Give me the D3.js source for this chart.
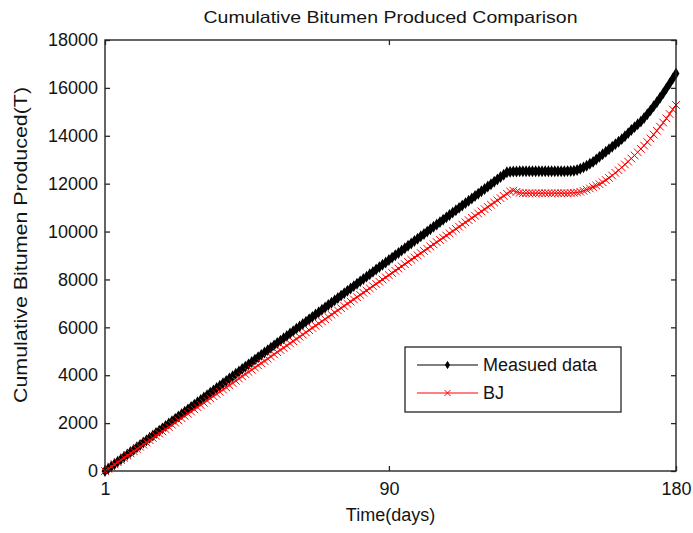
<!DOCTYPE html>
<html>
<head>
<meta charset="utf-8">
<script src="https://cdn.jsdelivr.net/npm/d3@7"></script>
<style>
  html, body { margin: 0; padding: 0; background: #fff; }
  svg { display: block; font-family: "Liberation Sans", Arial, sans-serif; }
</style>
</head>
<body>
<svg id="chart" width="693" height="533"></svg>
<script>
// Cumulative bitumen produced per day (tonnes), days 1..180
const measured = [
  0,98,197,296,396,494,593,693,791,890,
  990,1088,1187,1287,1385,1484,1584,1682,1781,1881,
  1980,2078,2177,2277,2375,2474,2574,2672,2771,2871,
  2970,3068,3167,3267,3365,3464,3564,3662,3761,3861,
  3960,4058,4157,4257,4355,4454,4554,4652,4751,4851,
  4950,5048,5147,5247,5345,5444,5544,5642,5741,5841,
  5940,6038,6137,6237,6335,6434,6534,6632,6731,6831,
  6930,7028,7127,7227,7325,7424,7524,7622,7721,7821,
  7920,8018,8117,8217,8315,8414,8514,8612,8711,8811,
  8910,9008,9107,9207,9305,9404,9504,9602,9701,9801,
  9900,9998,10097,10197,10295,10394,10494,10592,10691,10791,
  10890,10988,11087,11187,11285,11384,11484,11582,11681,11781,
  11880,11978,12077,12177,12275,12374,12474,12500,12510,12510,
  12515,12515,12520,12520,12520,12520,12520,12520,12520,12520,
  12520,12520,12520,12520,12520,12525,12530,12540,12570,12620,
  12680,12750,12830,12910,13010,13120,13230,13330,13440,13540,
  13650,13750,13860,13980,14110,14240,14360,14480,14600,14740,
  14900,15060,15230,15400,15590,15780,15980,16180,16390,16600
];
const bj = [
  0,92,184,276,368,460,551,643,735,827,
  919,1011,1103,1195,1287,1379,1470,1562,1654,1746,
  1838,1930,2022,2114,2206,2298,2389,2481,2573,2665,
  2757,2849,2941,3033,3125,3217,3308,3400,3492,3584,
  3676,3768,3860,3952,4044,4136,4227,4319,4411,4503,
  4595,4687,4779,4871,4963,5055,5146,5238,5330,5422,
  5514,5606,5698,5790,5882,5974,6065,6157,6249,6341,
  6433,6525,6617,6709,6801,6893,6984,7076,7168,7260,
  7352,7444,7536,7628,7720,7812,7903,7995,8087,8179,
  8271,8363,8455,8547,8639,8731,8822,8914,9006,9098,
  9190,9282,9374,9466,9558,9650,9741,9833,9925,10017,
  10109,10201,10293,10385,10477,10569,10660,10752,10844,10936,
  11028,11120,11212,11304,11396,11488,11579,11671,11710,11660,
  11620,11600,11600,11600,11600,11600,11600,11600,11600,11600,
  11600,11600,11600,11600,11600,11600,11610,11620,11630,11660,
  11700,11750,11800,11860,11920,11980,12060,12150,12240,12340,
  12450,12560,12680,12800,12920,13050,13180,13310,13450,13590,
  13740,13890,14050,14210,14380,14550,14730,14910,15100,15285
];
const xTicks = [1, 90, 180];
const yTicks = [0, 2000, 4000, 6000, 8000, 10000, 12000, 14000, 16000, 18000];
const seriesNames = ["Measued data", "BJ"];

const svg = d3.select("#chart");
const L = 105, R = 676, T = 40, B = 471;
const x = d3.scaleLinear().domain([1, 180]).range([L, R]);
const y = d3.scaleLinear().domain([0, 18000]).range([B, T]);
const axisColor = "#262626";
const textColor = "#141414";

// plot background
svg.append("rect").attr("x", L).attr("y", T).attr("width", R - L).attr("height", B - T)
  .attr("fill", "#fff");

function styleAxis(g, fs) {
  g.select(".domain").remove();
  g.selectAll(".tick line").attr("stroke", axisColor).attr("stroke-width", 1.3);
  g.selectAll(".tick text").attr("fill", textColor).attr("font-size", fs)
    .attr("font-family", "Liberation Sans, Arial, sans-serif");
}

svg.append("g").attr("transform", `translate(0,${B})`)
  .call(d3.axisBottom(x).tickValues(xTicks).tickSize(-5).tickSizeOuter(0).tickPadding(11).tickFormat(d3.format("d")))
  .call(g => styleAxis(g, 18));
svg.append("g").attr("transform", `translate(0,${T})`)
  .call(d3.axisTop(x).tickValues(xTicks).tickSize(-5).tickSizeOuter(0).tickFormat(""))
  .call(g => styleAxis(g, 18));
svg.append("g").attr("transform", `translate(${L},0)`)
  .call(d3.axisLeft(y).tickValues(yTicks).tickSize(-5).tickSizeOuter(0).tickPadding(7).tickFormat(d3.format("d")))
  .call(g => styleAxis(g, 18));
svg.append("g").attr("transform", `translate(${R},0)`)
  .call(d3.axisRight(y).tickValues(yTicks).tickSize(-5).tickSizeOuter(0).tickFormat(""))
  .call(g => styleAxis(g, 18));

const line = d3.line().x((d, i) => x(i + 1)).y(d => y(d));

// Measured data: black line with filled diamonds at every day
const gM = svg.append("g");
gM.append("path").datum(measured).attr("d", line)
  .attr("fill", "none").attr("stroke", "#000").attr("stroke-width", 1.5);
const diamond = d3.symbol().type(d3.symbolDiamond).size(22);
gM.selectAll("path.m").data(measured).join("path").attr("class", "m")
  .attr("d", diamond)
  .attr("transform", (d, i) => `translate(${x(i + 1)},${y(d)})`)
  .attr("fill", "#000").attr("stroke", "#000").attr("stroke-width", 1.6);

// BJ: red line with x markers at every day
const gB = svg.append("g");
gB.append("path").datum(bj).attr("d", line)
  .attr("fill", "none").attr("stroke", "#ff0000").attr("stroke-width", 1);
const cross = d3.symbol().type(d3.symbolX).size(40);
gB.selectAll("path.b").data(bj).join("path").attr("class", "b")
  .attr("d", cross)
  .attr("transform", (d, i) => `translate(${x(i + 1)},${y(d)})`)
  .attr("fill", "none").attr("stroke", "#ff0000").attr("stroke-width", 1);

// axes box
svg.append("rect").attr("x", L).attr("y", T).attr("width", R - L).attr("height", B - T)
  .attr("fill", "none").attr("stroke", axisColor).attr("stroke-width", 1.4);

// title and axis labels
svg.append("text").attr("x", (L + R) / 2).attr("y", 23).attr("text-anchor", "middle")
  .attr("font-size", 16.5).attr("fill", textColor)
  .attr("textLength", 374).attr("lengthAdjust", "spacingAndGlyphs")
  .text("Cumulative Bitumen Produced Comparison");
svg.append("text").attr("x", (L + R) / 2).attr("y", 521).attr("text-anchor", "middle")
  .attr("font-size", 18).attr("fill", textColor)
  .text("Time(days)");
svg.append("text").attr("transform", "translate(27,245) rotate(-90)").attr("text-anchor", "middle")
  .attr("font-size", 18).attr("fill", textColor)
  .attr("textLength", 316).attr("lengthAdjust", "spacingAndGlyphs")
  .text("Cumulative Bitumen Produced(T)");

// legend
const lg = svg.append("g");
lg.append("rect").attr("x", 405).attr("y", 347).attr("width", 216).attr("height", 65)
  .attr("fill", "#fff").attr("stroke", axisColor).attr("stroke-width", 1.3);
const legendDiamond = d3.symbol().type(d3.symbolDiamond).size(14);
const legendCross = d3.symbol().type(d3.symbolX).size(26);
const rows = [
  { name: seriesNames[0], color: "#000", sym: legendDiamond, fill: "#000", cy: 365 },
  { name: seriesNames[1], color: "#ff0000", sym: legendCross, fill: "none", cy: 393 }
];
rows.forEach(r => {
  lg.append("line").attr("x1", 417).attr("x2", 478).attr("y1", r.cy).attr("y2", r.cy)
    .attr("stroke", r.color).attr("stroke-width", 1);
  lg.append("path").attr("d", r.sym).attr("transform", `translate(447.5,${r.cy})`)
    .attr("fill", r.fill).attr("stroke", r.color).attr("stroke-width", 1);
  lg.append("text").attr("x", 483).attr("y", r.cy).attr("dy", "0.35em")
    .attr("font-size", 18).attr("fill", textColor).text(r.name);
});
</script>
</body>
</html>
